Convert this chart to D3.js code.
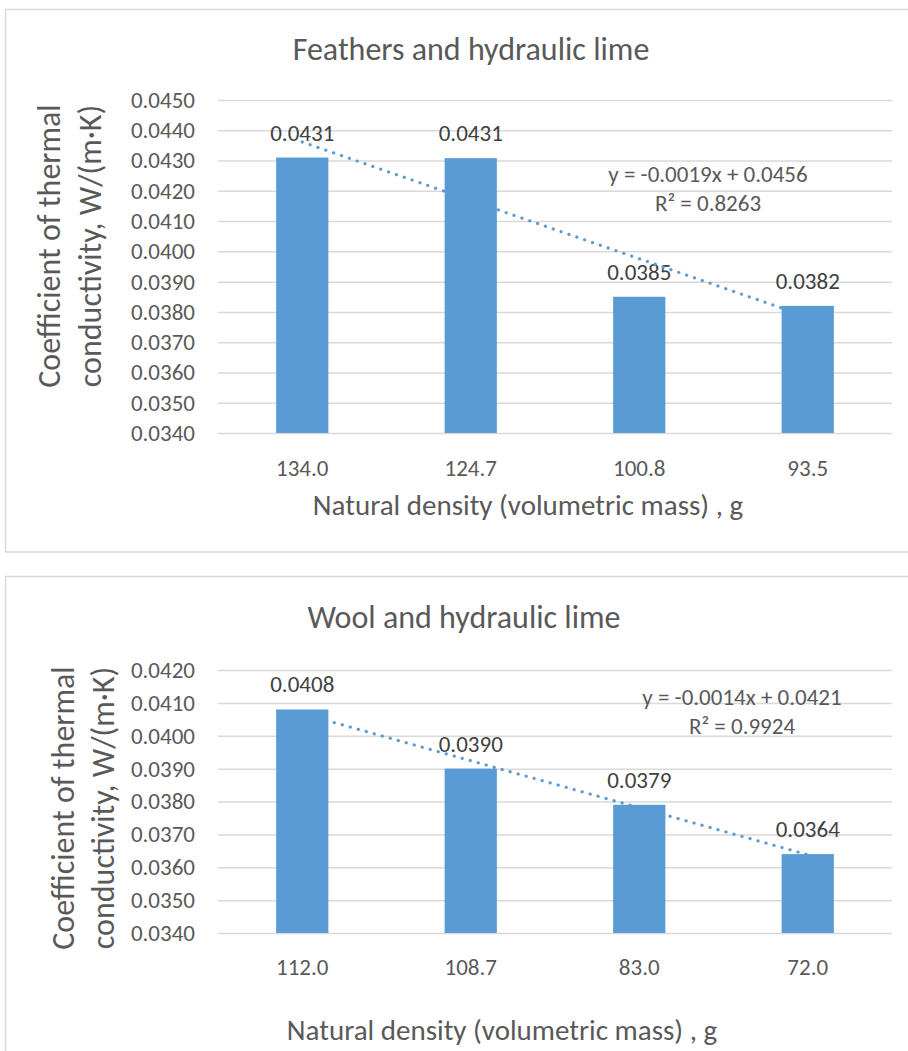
<!DOCTYPE html>
<html>
<head>
<meta charset="utf-8">
<script src="https://cdn.jsdelivr.net/npm/d3@7/dist/d3.min.js"></script>
<style>
  html, body { margin: 0; padding: 0; background: #fff; }
  svg { display: block; }
  text { font-family: Carlito, Calibri, Lato, sans-serif; }
</style>
</head>
<body>
<div id="chart"></div>
<script>
// ---- DATA ----
const feathersDensity = ["134.0", "124.7", "100.8", "93.5"];
const feathersConductivity = [0.0431, 0.04308, 0.0385, 0.0382];
const feathersTicks = [0.0340, 0.0350, 0.0360, 0.0370, 0.0380, 0.0390, 0.0400, 0.0410, 0.0420, 0.0430, 0.0440, 0.0450];
const feathersEquation = ["y = -0.0019x + 0.0456", "R² = 0.8263"];

const woolDensity = ["112.0", "108.7", "83.0", "72.0"];
const woolConductivity = [0.0408, 0.0390, 0.0379, 0.0364];
const woolTicks = [0.0340, 0.0350, 0.0360, 0.0370, 0.0380, 0.0390, 0.0400, 0.0410, 0.0420];
const woolEquation = ["y = -0.0014x + 0.0421", "R² = 0.9924"];

const yTitle = ["Coefficient of thermal", "conductivity, W/(m·K)"];
const xTitle = "Natural density (volumetric mass) , g";

// ---- SVG ----
const W = 908, H = 1051;
const svg = d3.select("#chart").append("svg")
    .attr("width", W)
    .attr("height", H);

const barColor = "#5B9BD5";
const textColor = "#595959";
const gridColor = "#D9D9D9";

// least squares line through (1..n, values), like Excel's linear trendline
function linearFit(values) {
    const xs = values.map((d, i) => i + 1);
    const mx = d3.mean(xs), my = d3.mean(values);
    const slope = d3.sum(xs, (x, i) => (x - mx) * (values[i] - my)) / d3.sum(xs, x => (x - mx) ** 2);
    return { slope, intercept: my - slope * mx };
}

function drawChart(cfg) {
    const g = svg.append("g");

    // chart frame
    g.append("rect")
        .attr("x", cfg.frame[0]).attr("y", cfg.frame[1])
        .attr("width", cfg.frame[2]).attr("height", cfg.frame[3])
        .attr("fill", "#fff")
        .attr("stroke", gridColor)
        .attr("stroke-width", 1.5);

    const x = d3.scaleBand()
        .domain(cfg.categories)
        .range([cfg.left, cfg.right])
        .paddingInner(0.69)
        .paddingOuter(0.345);

    const y = d3.scaleLinear()
        .domain(d3.extent(cfg.ticks))
        .range([cfg.bottom, cfg.top]);

    // gridlines + y labels
    const yAxis = g.append("g")
        .attr("transform", `translate(${cfg.left},0)`)
        .call(d3.axisLeft(y)
            .tickValues(cfg.ticks)
            .tickSize(-(cfg.right - cfg.left))
            .tickPadding(23)
            .tickFormat(d3.format(".4f")));
    yAxis.select(".domain").remove();
    yAxis.selectAll(".tick line").attr("stroke", gridColor).attr("stroke-width", 1.5);
    yAxis.selectAll(".tick text")
        .attr("fill", textColor)
        .style("font-size", "23px");

    // x labels
    const xAxis = g.append("g")
        .attr("transform", `translate(0,${cfg.bottom})`)
        .call(d3.axisBottom(x).tickSize(0).tickPadding(cfg.xPad));
    xAxis.select(".domain").remove();
    xAxis.selectAll(".tick text")
        .attr("fill", textColor)
        .style("font-size", "23px");

    // bars
    g.selectAll(".bar")
        .data(cfg.values)
        .enter()
        .append("rect")
        .attr("x", (d, i) => x(cfg.categories[i]))
        .attr("y", d => y(d))
        .attr("width", x.bandwidth())
        .attr("height", d => cfg.bottom - y(d))
        .attr("fill", barColor);

    // data labels
    g.selectAll(".lab")
        .data(cfg.values)
        .enter()
        .append("text")
        .attr("x", (d, i) => x(cfg.categories[i]) + x.bandwidth() / 2)
        .attr("y", d => y(d) - 17)
        .attr("text-anchor", "middle")
        .attr("fill", "#404040")
        .style("font-size", "23px")
        .text(d => d3.format(".4f")(d));

    // trendline
    const fit = linearFit(cfg.values);
    const cx = i => x(cfg.categories[i]) + x.bandwidth() / 2;
    const n = cfg.values.length;
    g.append("line")
        .attr("x1", cx(0)).attr("y1", y(fit.intercept + fit.slope * 1))
        .attr("x2", cx(n - 1)).attr("y2", y(fit.intercept + fit.slope * n))
        .attr("stroke", barColor)
        .attr("stroke-width", 3.2)
        .attr("stroke-linecap", "round")
        .attr("stroke-dasharray", "0.1 8.2");

    // equation
    g.selectAll(".eq")
        .data(cfg.equation)
        .enter()
        .append("text")
        .attr("x", cfg.eqPos[0])
        .attr("y", (d, i) => cfg.eqPos[1] + i * 29)
        .attr("text-anchor", "middle")
        .attr("fill", textColor)
        .style("font-size", "23px")
        .text(d => d);

    // chart title
    g.append("text")
        .attr("x", cfg.titlePos[0])
        .attr("y", cfg.titlePos[1])
        .attr("text-anchor", "middle")
        .attr("fill", textColor)
        .style("font-size", "32px")
        .text(cfg.title);

    // axis titles
    g.append("text")
        .attr("x", cfg.xTitlePos[0])
        .attr("y", cfg.xTitlePos[1])
        .attr("text-anchor", "middle")
        .attr("fill", textColor)
        .style("font-size", "29px")
        .text(xTitle);

    g.selectAll(".yt")
        .data(yTitle)
        .enter()
        .append("text")
        .attr("transform", (d, i) => `translate(${cfg.yTitleX[i]},${cfg.yTitleY}) rotate(-90)`)
        .attr("text-anchor", "middle")
        .attr("fill", textColor)
        .style("font-size", "32px")
        .text(d => d);
}

drawChart({
    title: "Feathers and hydraulic lime",
    categories: feathersDensity,
    values: feathersConductivity,
    ticks: feathersTicks,
    equation: feathersEquation,
    frame: [5.5, 9.5, 960, 542.5],
    left: 218, right: 892, top: 100, bottom: 433,
    xPad: 27,
    eqPos: [708, 182],
    titlePos: [471, 60],
    xTitlePos: [528, 515],
    yTitleX: [60, 101],
    yTitleY: 246
});

drawChart({
    title: "Wool and hydraulic lime",
    categories: woolDensity,
    values: woolConductivity,
    ticks: woolTicks,
    equation: woolEquation,
    frame: [5.5, 576.5, 960, 520],
    left: 218, right: 892, top: 670, bottom: 933,
    xPad: 26,
    eqPos: [742, 705],
    titlePos: [464, 628],
    xTitlePos: [502, 1040],
    yTitleX: [74, 114],
    yTitleY: 808
});
</script>
</body>
</html>
